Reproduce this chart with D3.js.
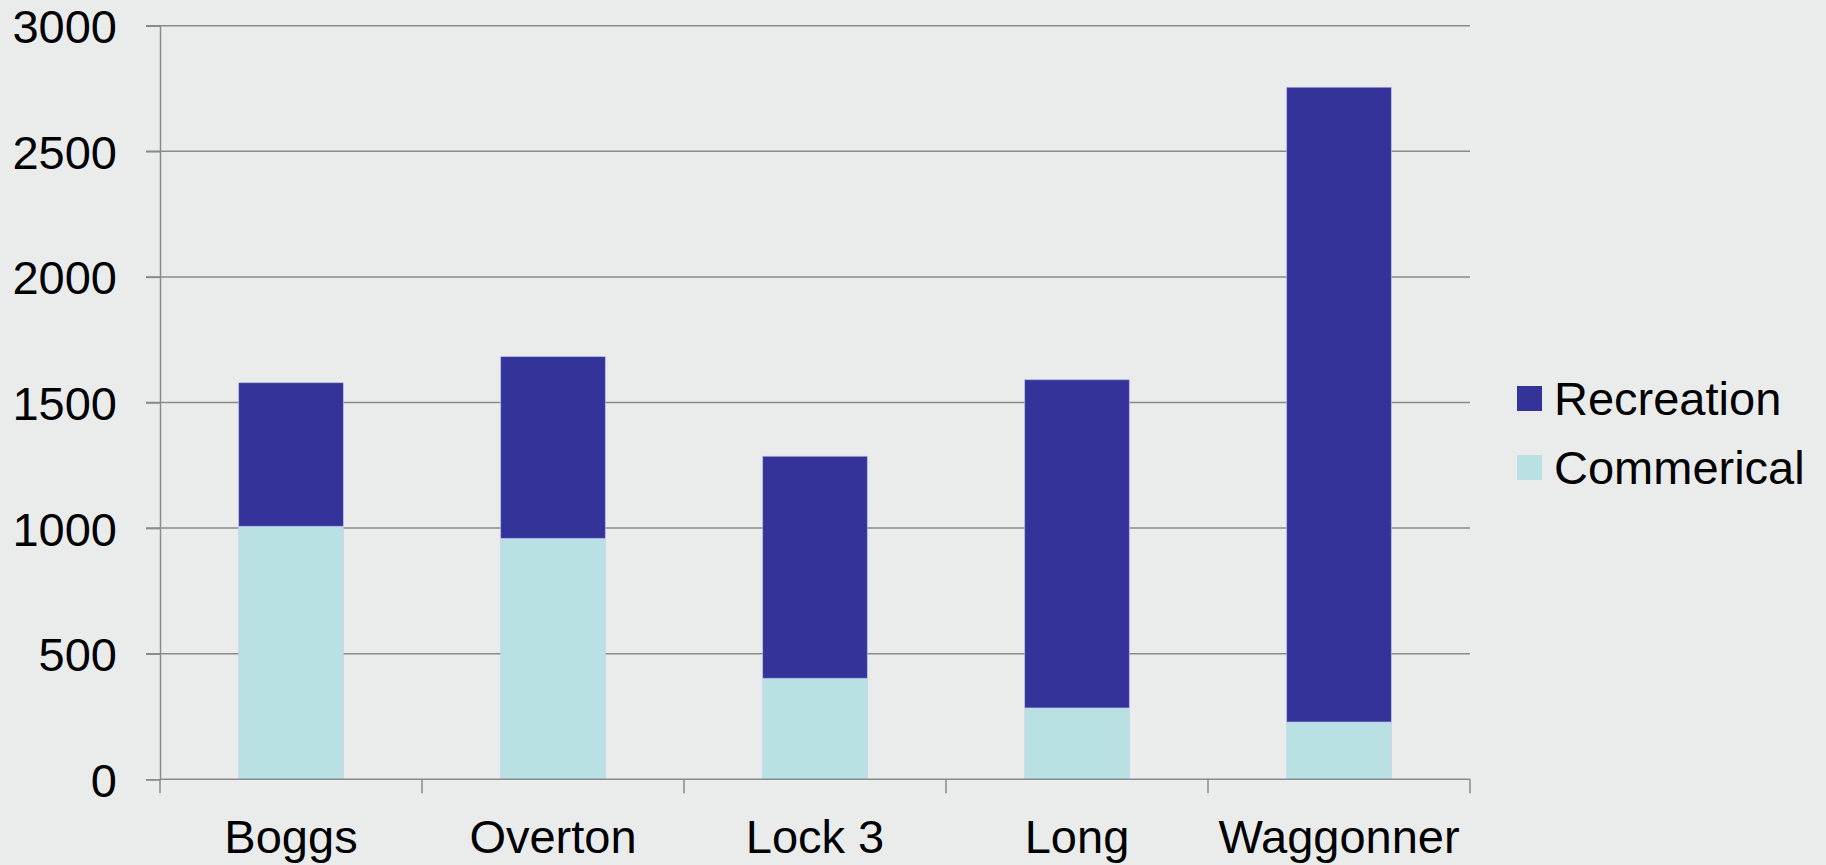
<!DOCTYPE html>
<html>
<head>
<meta charset="utf-8">
<script src="https://cdn.jsdelivr.net/npm/d3@7"></script>
<style>
  html, body { margin: 0; padding: 0; background: #eaeceb; }
  svg { display: block; }
</style>
</head>
<body>
<svg id="chart"></svg>
<script>
const categories = ["Boggs", "Overton", "Lock 3", "Long", "Waggonner"];
const commercial = [1007, 959, 402, 284, 228];
const recreation = [572, 724, 884, 1307, 2527];
const seriesNames = ["Commerical", "Recreation"];
const seriesColors = ["#b9e0e3", "#333399"];
const yTicks = [0, 500, 1000, 1500, 2000, 2500, 3000];

const width = 1826;
const height = 865;
const margin = {left: 160, right: 356, top: 25.7, bottom: 85.7};
const font = "Liberation Sans, Arial, sans-serif";
const fontSize = 47;

const svg = d3.select("svg#chart")
  .attr("width", width)
  .attr("height", height);

// background
svg.append("rect")
  .attr("width", width)
  .attr("height", height)
  .attr("fill", "#eaeceb");

const rows = categories.map((c, i) => ({
  name: c,
  Commerical: commercial[i],
  Recreation: recreation[i]
}));

const stack = d3.stack().keys(seriesNames)(rows);

const x = d3.scaleBand()
  .domain(categories)
  .range([margin.left, width - margin.right])
  .paddingInner(0.6)
  .paddingOuter(0.3);

const y = d3.scaleLinear()
  .domain([0, 3000])
  .range([height - margin.bottom, margin.top]);

const color = d3.scaleOrdinal().domain(seriesNames).range(seriesColors);

// grid lines
svg.append("g")
  .attr("id", "grid")
  .selectAll("line")
  .data(yTicks.filter(t => t > 0))
  .join("line")
    .attr("x1", margin.left - 14)
    .attr("x2", width - margin.right)
    .attr("y1", d => y(d))
    .attr("y2", d => y(d))
    .attr("stroke", "#8a8a8a")
    .attr("stroke-width", 1.5);

// bars
svg.append("g")
  .attr("id", "bars")
  .selectAll("g")
  .data(stack)
  .join("g")
    .attr("fill", d => color(d.key))
  .selectAll("rect")
  .data(d => d)
  .join("rect")
    .attr("x", d => x(d.data.name))
    .attr("width", x.bandwidth())
    .attr("y", d => y(d[1]))
    .attr("height", d => y(d[0]) - y(d[1]))
    .attr("stroke", "rgba(200,205,240,0.6)")
    .attr("stroke-width", 1);

// y axis
const yAxis = svg.append("g")
  .attr("transform", `translate(${margin.left},0)`)
  .call(d3.axisLeft(y).tickValues(yTicks).tickFormat(d3.format("d")).tickSize(14).tickPadding(29));
yAxis.select(".domain").attr("stroke", "#8a8a8a").attr("stroke-width", 1.5);
yAxis.selectAll(".tick line").attr("stroke", "#8a8a8a").attr("stroke-width", 1.5);
yAxis.selectAll("text")
  .attr("font-family", font)
  .attr("font-size", fontSize)
  .attr("fill", "#000")
  .attr("dy", "0.36em");

// x axis: ticks sit between categories
const boundaries = d3.range(categories.length + 1).map(i => margin.left + i * (width - margin.left - margin.right) / categories.length);
const xg = svg.append("g").attr("id", "xaxis");
xg.append("line")
  .attr("x1", margin.left)
  .attr("x2", width - margin.right)
  .attr("y1", y(0))
  .attr("y2", y(0))
  .attr("stroke", "#8a8a8a")
  .attr("stroke-width", 1.5);
xg.selectAll("line.tick")
  .data(boundaries)
  .join("line")
    .attr("class", "tick")
    .attr("x1", d => d)
    .attr("x2", d => d)
    .attr("y1", y(0))
    .attr("y2", y(0) + 14)
    .attr("stroke", "#8a8a8a")
    .attr("stroke-width", 1.5);
xg.selectAll("text")
  .data(categories)
  .join("text")
    .attr("x", d => x(d) + x.bandwidth() / 2)
    .attr("y", y(0) + 74)
    .attr("text-anchor", "middle")
    .attr("font-family", font)
    .attr("font-size", fontSize)
    .attr("fill", "#000")
    .text(d => d);

// legend
const legendItems = ["Recreation", "Commerical"];
const legend = svg.append("g")
  .attr("transform", "translate(1517,386)")
  .selectAll("g")
  .data(legendItems)
  .join("g")
    .attr("transform", (d, i) => `translate(0,${i * 69})`);
legend.append("rect")
  .attr("width", 25)
  .attr("height", 25)
  .attr("fill", d => color(d));
legend.append("text")
  .attr("x", 37)
  .attr("y", 29)
  .attr("font-family", font)
  .attr("font-size", fontSize)
  .attr("fill", "#000")
  .text(d => d);
</script>
</body>
</html>
